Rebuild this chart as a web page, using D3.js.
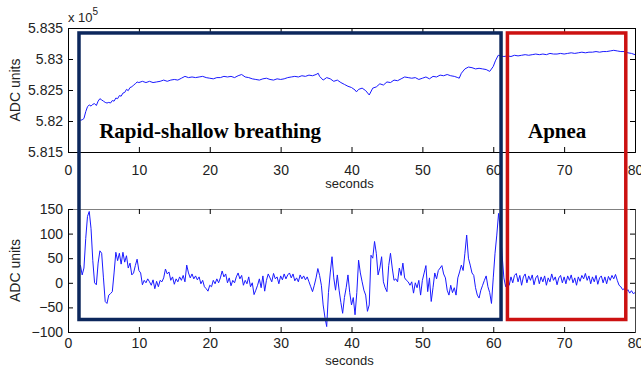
<!DOCTYPE html>
<html>
<head>
<meta charset="utf-8">
<script src="https://cdn.jsdelivr.net/npm/d3@7"></script>
<style>
  body { margin: 0; background: #fff; }
  svg text { font-family: "Liberation Sans", Arial, sans-serif; }
</style>
</head>
<body>
<div id="chart"></div>
<script>
// tick values
const xTicks = [0, 10, 20, 30, 40, 50, 60, 70, 80];
const topTicks = [5.815, 5.82, 5.825, 5.83, 5.835];   // ADC units x 10^5
const bottomTicks = [-100, -50, 0, 50, 100, 150];

// raw ADC signal [seconds, value x 10^5]
const rawSignal = [
  [1.75,5.8201],[2,5.8202],[2.25,5.8204],[2.5,5.8215],[2.75,5.8223],[3,5.8226],[3.25,5.8224],[3.5,5.8227],
  [3.75,5.8228],[4,5.8225],[4.25,5.8232],[4.5,5.8236],[4.75,5.8234],[5,5.8232],[5.25,5.8230],[5.5,5.8229],
  [5.75,5.8230],[6,5.8229],[6.25,5.8233],[6.5,5.8232],[6.75,5.8237],[7,5.8236],[7.25,5.8241],[7.5,5.8240],
  [7.75,5.8245],[8,5.8246],[8.25,5.8251],[8.5,5.8249],[8.75,5.8254],[9,5.8255],[9.25,5.8258],[9.5,5.8260],
  [9.75,5.8263],[10,5.8262],[10.5,5.8264],[11,5.8262],[11.5,5.8264],[12,5.8262],[12.5,5.8263],[13,5.8264],
  [13.5,5.8266],[14,5.8264],[14.5,5.8266],[15,5.8267],[15.5,5.8266],[16,5.8269],[16.5,5.8272],[17,5.8270],
  [17.5,5.8271],[18,5.8270],[18.5,5.8271],[19,5.8272],[19.5,5.8270],[20,5.8269],[20.5,5.8268],[21,5.8270],
  [21.5,5.8270],[22,5.8272],[22.5,5.8271],[23,5.8272],[23.5,5.8270],[24,5.8273],[24.5,5.8275],[25,5.8271],
  [25.5,5.8270],[26,5.8268],[26.5,5.8267],[27,5.8266],[27.5,5.8268],[28,5.8269],[28.5,5.8267],[29,5.8266],
  [29.5,5.8268],[30,5.8267],[30.5,5.8268],[31,5.8270],[31.5,5.8271],[32,5.8272],[32.5,5.8271],[33,5.8273],
  [33.5,5.8272],[34,5.8274],[34.5,5.8273],[35,5.8275],[35.3,5.8277],[35.5,5.8272],[36,5.8266],[36.5,5.8270],
  [37,5.8268],[37.5,5.8264],[38,5.8266],[38.5,5.8262],[39,5.8259],[39.5,5.8256],[40,5.8254],[40.5,5.8250],
  [40.7,5.8247],[41,5.8251],[41.5,5.8253],[42,5.8249],[42.5,5.8242],[43,5.8253],[43.5,5.8255],[44,5.8260],
  [44.5,5.8258],[45,5.8263],[45.5,5.8262],[46,5.8266],[46.5,5.8265],[47,5.8268],[47.5,5.8271],[48,5.8270],
  [48.5,5.8269],[49,5.8270],[49.5,5.8267],[50,5.8269],[50.5,5.8271],[51,5.8268],[51.5,5.8272],[52,5.8271],
  [52.5,5.8274],[53,5.8273],[53.5,5.8275],[54,5.8273],[54.5,5.8272],[55,5.8270],[55.2,5.8269],[55.5,5.8277],
  [56,5.8284],[56.5,5.8287],[57,5.8286],[57.5,5.8284],[58,5.8285],[58.5,5.8284],[59,5.8283],[59.5,5.8280],
  [60,5.8288],[60.3,5.8297],[60.7,5.8306],[61,5.8305],[61.5,5.8304],[62,5.8305],[62.5,5.8304],[63,5.8306],
  [63.5,5.8305],[64,5.8306],[64.5,5.8307],[65,5.8306],[65.5,5.8307],[66,5.8308],[66.5,5.8307],[67,5.8308],
  [67.5,5.8307],[68,5.8309],[68.5,5.8308],[69,5.8308],[69.5,5.8309],[70,5.8308],[70.5,5.8309],[71,5.8310],
  [71.5,5.8309],[72,5.8310],[72.5,5.8311],[73,5.8310],[73.5,5.8311],[74,5.8311],[74.5,5.8312],[75,5.8311],
  [75.5,5.8312],[76,5.8312],[76.5,5.8313],[77,5.8314],[77.5,5.8313],[78,5.8312],[78.5,5.8312],[79,5.8310],
  [79.5,5.8309],[80,5.8307]
];

// filtered breathing signal [seconds, ADC units]
const breathSignal = [
  [1.75,36],[2,16],[2.25,30],[2.5,90],[2.75,135],[3,145],[3.25,110],[3.5,45],[3.75,0],[4,-4],[4.25,40],[4.5,65],
  [4.75,60],[5,10],[5.25,-38],[5.5,-42],[5.75,-25],[6,-22],[6.25,-18],[6.5,20],[6.75,62],[7,45],[7.25,60],[7.5,38],
  [7.75,62],[8,42],[8.25,55],[8.5,30],[8.75,40],[9,16],[9.25,20],[9.5,35],[9.75,48],[10,25],[10.25,20],[10.5,-4],
  [10.75,5],[11,0],[11.25,8],[11.5,2],[11.75,-5],[12,6],[12.25,-12],[12.5,3],[12.75,-8],[13,5],[13.25,2],[13.5,10],
  [13.75,28],[14,18],[14.25,22],[14.5,5],[14.75,12],[15,-3],[15.25,8],[15.5,2],[15.75,12],[16,5],[16.25,15],[16.5,2],
  [16.75,36],[17,20],[17.25,10],[17.5,18],[17.75,8],[18,14],[18.25,6],[18.5,12],[18.75,-2],[19,5],[19.25,-8],[19.5,-12],
  [19.75,-17],[20,-5],[20.25,-8],[20.5,5],[20.75,-2],[21,8],[21.25,0],[21.5,10],[21.75,24],[22,12],[22.25,18],[22.5,0],
  [22.75,10],[23,-6],[23.25,5],[23.5,0],[23.75,12],[24,20],[24.25,8],[24.5,15],[24.75,-5],[25,5],[25.25,-2],[25.5,12],
  [25.75,-8],[26,0],[26.25,-24],[26.5,-15],[26.75,-5],[27,8],[27.25,-10],[27.5,14],[27.75,-17],[28,5],[28.25,18],[28.5,10],
  [28.75,2],[29,19],[29.25,8],[29.5,12],[29.75,-2],[30,14],[30.25,6],[30.5,18],[30.75,8],[31,16],[31.25,20],[31.5,10],
  [31.75,18],[32,4],[32.25,10],[32.5,2],[32.75,16],[33,8],[33.25,14],[33.5,6],[33.75,12],[34,2],[34.25,-8],[34.5,-18],
  [34.75,-5],[35,10],[35.25,29],[35.5,15],[35.75,-5],[36,-45],[36.25,-70],[36.5,-89],[36.75,-20],[37,20],[37.25,53],[37.5,10],
  [37.75,-15],[38,16],[38.25,-15],[38.5,-40],[38.75,-62],[39,-30],[39.25,-10],[39.5,16],[39.75,-20],[40,-45],[40.25,-30],[40.5,-65],
  [40.75,-20],[41,46],[41.25,20],[41.5,2],[41.75,-15],[42,-25],[42.25,-58],[42.5,-45],[42.75,56],[43,50],[43.25,84],[43.5,60],
  [43.75,16],[44,30],[44.25,53],[44.5,2],[44.75,-10],[45,-18],[45.25,35],[45.5,60],[45.75,30],[46,5],[46.25,8],[46.5,2],
  [46.75,30],[47,15],[47.25,40],[47.5,10],[47.75,5],[48,2],[48.25,-5],[48.5,2],[48.75,-21],[49,0],[49.25,-10],[49.5,5],
  [49.75,-25],[50,5],[50.25,20],[50.5,35],[50.75,-18],[51,10],[51.25,-38],[51.5,-10],[51.75,20],[52,8],[52.25,25],[52.5,30],
  [52.75,35],[53,18],[53.25,10],[53.5,-15],[53.75,-25],[54,-5],[54.25,-20],[54.5,-10],[54.75,-25],[55,10],[55.25,22],[55.5,36],
  [55.75,25],[56,60],[56.25,97],[56.5,50],[56.75,36],[57,20],[57.25,15],[57.5,-10],[57.75,-25],[58,-31],[58.25,-15],[58.5,-5],
  [58.75,5],[59,14],[59.25,-8],[59.5,-20],[59.75,-42],[60,10],[60.25,60],[60.5,97],[60.75,141],[61,110],[61.25,56],[61.5,10],
  [61.75,-8],[62,5],[62.25,-5],[62.5,12],[62.75,0],[63,15],[63.25,19],[63.5,2],[63.75,15],[64,-5],[64.25,12],[64.5,18],
  [64.75,0],[65,14],[65.25,5],[65.5,16],[65.75,-4],[66,10],[66.25,15],[66.5,-2],[66.75,12],[67,2],[67.25,14],[67.5,-5],
  [67.75,10],[68,2],[68.25,18],[68.5,5],[68.75,12],[69,-4],[69.25,10],[69.5,15],[69.75,0],[70,12],[70.25,-2],[70.5,14],
  [70.75,5],[71,16],[71.25,0],[71.5,10],[71.75,-5],[72,12],[72.25,3],[72.5,15],[72.75,8],[73,19],[73.25,5],[73.5,14],
  [73.75,-2],[74,12],[74.25,2],[74.5,15],[74.75,-3],[75,10],[75.25,14],[75.5,0],[75.75,12],[76,-2],[76.25,13],[76.5,5],
  [76.75,15],[77,8],[77.25,17],[77.5,5],[77.75,-5],[78,-8],[78.25,-14],[78.5,-12],[78.75,-18],[79,-14],[79.25,-21],[79.5,-16],
  [79.75,-22],[80,-20]
];

// annotated phases, in seconds
const phaseNames = ['Rapid-shallow breathing', 'Apnea'];
const phaseStart = [1.55, 62.0];
const phaseEnd = [61.1, 78.7];
const phaseLabelAt = [4.4, 64.9];

const phaseColors = ['#0c275c', '#cc1111'];

const W = 641, H = 374;
const svg = d3.select('#chart').append('svg')
  .attr('width', W)
  .attr('height', H);

svg.append('rect').attr('width', W).attr('height', H).attr('fill', '#fff');

const x = d3.scaleLinear().domain([0, 80]).range([68, 635]);
const yTop = d3.scaleLinear().domain([5.815, 5.835]).range([152, 28]);
const yBot = d3.scaleLinear().domain([-100, 150]).range([332, 209]);

function drawPanel(y, yTicks, fmt, labelGap, topColor, rightColor) {
  const [y0, y1] = y.range();
  const g = svg.append('g');

  // bottom x axis, ticks pointing inward
  const xb = g.append('g')
    .attr('transform', `translate(0,${y0})`)
    .call(d3.axisBottom(x).tickValues(xTicks).tickSize(-5).tickPadding(labelGap).tickFormat(d3.format('d')));
  // top mirror
  const xt = g.append('g')
    .attr('transform', `translate(0,${y1})`)
    .call(d3.axisTop(x).tickValues(xTicks).tickSize(-5).tickFormat(''));
  // left y axis
  const yl = g.append('g')
    .attr('transform', `translate(${x.range()[0]},0)`)
    .call(d3.axisLeft(y).tickValues(yTicks).tickSize(-5).tickPadding(5).tickFormat(fmt));
  // right mirror
  const yr = g.append('g')
    .attr('transform', `translate(${x.range()[1]},0)`)
    .call(d3.axisRight(y).tickValues(yTicks).tickSize(-5).tickFormat(''));

  [xb, xt, yl, yr].forEach(a => {
    a.selectAll('.tick line').attr('stroke', '#000');
    a.selectAll('.tick text')
      .attr('fill', '#222')
      .style('font-size', '14px');
  });
  xt.select('.domain').attr('stroke', topColor);
  yr.select('.domain').attr('stroke', rightColor);
  xb.select('.domain').attr('stroke', '#000');
  yl.select('.domain').attr('stroke', '#000');
  [xt, yr].forEach(a => a.selectAll('.tick text').remove());
  return g;
}

drawPanel(yTop, topTicks, d3.format('.3~f'), 13, '#000', '#000');
drawPanel(yBot, bottomTicks, d3.format('d'), 6, '#808080', '#444');

// clip paths for traces
svg.append('clipPath').attr('id', 'clipTop').append('rect')
  .attr('x', x(0)).attr('y', yTop(5.835)).attr('width', x(80) - x(0)).attr('height', yTop(5.815) - yTop(5.835));
svg.append('clipPath').attr('id', 'clipBot').append('rect')
  .attr('x', x(0)).attr('y', yBot(150)).attr('width', x(80) - x(0)).attr('height', yBot(-100) - yBot(150));

svg.append('path')
  .attr('clip-path', 'url(#clipTop)')
  .attr('fill', 'none')
  .attr('stroke', '#1a1aff')
  .attr('stroke-width', 1)
  .attr('d', d3.line().x(d => x(d[0])).y(d => yTop(d[1]))(rawSignal));

svg.append('path')
  .attr('clip-path', 'url(#clipBot)')
  .attr('fill', 'none')
  .attr('stroke', '#1a1aff')
  .attr('stroke-width', 1)
  .attr('d', d3.line().x(d => x(d[0])).y(d => yBot(d[1]))(breathSignal));

// axis labels
svg.append('text')
  .attr('x', 68).attr('y', 22)
  .style('font-size', '13px').attr('fill', '#222')
  .text('x 10')
  .append('tspan').attr('dy', -7).style('font-size', '10px').text('5');

svg.append('text')
  .attr('transform', `translate(20,${(yTop.range()[0] + yTop.range()[1]) / 2}) rotate(-90)`)
  .attr('text-anchor', 'middle')
  .style('font-size', '14px').attr('fill', '#222')
  .text('ADC units');
svg.append('text')
  .attr('transform', `translate(20,${(yBot.range()[0] + yBot.range()[1]) / 2}) rotate(-90)`)
  .attr('text-anchor', 'middle')
  .style('font-size', '14px').attr('fill', '#222')
  .text('ADC units');

svg.append('text')
  .attr('x', (x.range()[0] + x.range()[1]) / 2 - 2).attr('y', 188)
  .attr('text-anchor', 'middle')
  .style('font-size', '13px').attr('fill', '#222')
  .text('seconds');
svg.append('text')
  .attr('x', (x.range()[0] + x.range()[1]) / 2 - 2).attr('y', 365)
  .attr('text-anchor', 'middle')
  .style('font-size', '13px').attr('fill', '#222')
  .text('seconds');

// phase boxes spanning both panels
phaseNames.forEach((name, i) => {
  const top = yTop(5.8342);
  const bottom = yBot(-74.6);
  svg.append('rect')
    .attr('x', x(phaseStart[i]))
    .attr('y', top)
    .attr('width', x(phaseEnd[i]) - x(phaseStart[i]))
    .attr('height', bottom - top)
    .attr('fill', 'none')
    .attr('stroke', phaseColors[i])
    .attr('stroke-width', 3.5);

  svg.append('text')
    .attr('x', x(phaseLabelAt[i]))
    .attr('y', yTop(5.8173))
    .style('font-family', '"Liberation Serif", "Times New Roman", serif')
    .style('font-weight', 'bold')
    .style('font-size', '21px')
    .attr('fill', '#000')
    .text(name);
});
</script>
</body>
</html>
